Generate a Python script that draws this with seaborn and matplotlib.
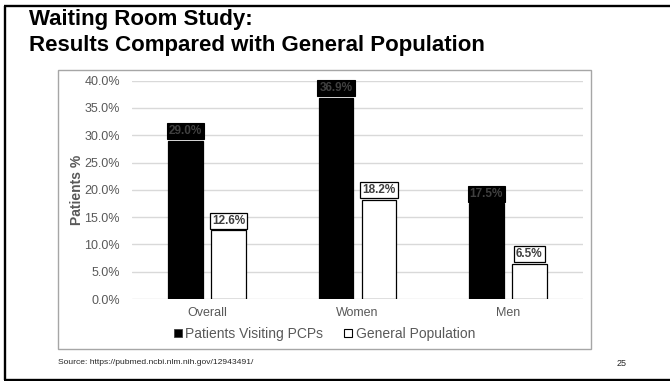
import numpy as np
import pandas as pd
import matplotlib
matplotlib.use("Agg")
import matplotlib.pyplot as plt
from matplotlib.lines import Line2D
from matplotlib.patches import Rectangle
import seaborn as sns

# Survey results (percent of respondents)
categories = ["Overall", "Women", "Men"]
series_names = ["Patients Visiting PCPs", "General Population"]
pcp_values = [29.0, 36.9, 17.5]
general_values = [12.6, 18.2, 6.5]
y_ticks = [0, 5, 10, 15, 20, 25, 30, 35, 40]
y_tick_labels = ["0.0%", "5.0%", "10.0%", "15.0%", "20.0%", "25.0%", "30.0%", "35.0%", "40.0%"]

df = pd.DataFrame({
    "Group": categories * 2,
    "Series": [series_names[0]] * len(categories) + [series_names[1]] * len(categories),
    "Percent": pcp_values + general_values,
})

sns.set_theme(style="white")
plt.rcParams["font.family"] = ["Liberation Sans", "DejaVu Sans"]

W, H = 670, 381
fig = plt.figure(figsize=(W / 100, H / 100), dpi=100)
fig.patch.set_facecolor("white")

ax = fig.add_axes([132 / W, 1 - 299 / H, 451 / W, (299 - 80.7) / H])

sns.barplot(
    data=df, x="Group", y="Percent", hue="Series",
    order=categories, hue_order=series_names,
    palette=["black", "white"], edgecolor="black", linewidth=0.9,
    width=0.572, gap=0.2, errorbar=None, legend=False, ax=ax,
)

ax.set_xlim(-0.5, len(categories) - 0.5)
ax.set_ylim(0, 40)
ax.set_yticks(y_ticks)
ax.set_yticklabels(y_tick_labels)
ax.set_xlabel("")
ax.set_ylabel("")
ax.yaxis.grid(True, color="#d9d9d9", linewidth=1.0)
ax.set_axisbelow(True)
for sp in ax.spines.values():
    sp.set_visible(False)
ax.tick_params(axis="both", length=0, labelcolor="#595959", labelsize=9)
ax.tick_params(axis="y", pad=8.6)
ax.tick_params(axis="x", pad=5.5)

ax.text(-0.121, 0.5, "Patients %", transform=ax.transAxes, rotation=90,
        ha="center", va="center", fontsize=10, fontweight="bold", color="#595959")

# Value labels above each bar
box_styles = [
    dict(boxstyle="square,pad=0.17", facecolor="black", edgecolor="black", linewidth=0.8),
    dict(boxstyle="square,pad=0.17", facecolor="white", edgecolor="black", linewidth=0.9),
]
for container, style in zip(ax.containers, box_styles):
    for bar in container:
        v = bar.get_height()
        ax.annotate(f"{v:.1f}%", xy=(bar.get_x() + bar.get_width() / 2, v),
                    xytext=(0, 2.6), textcoords="offset points",
                    ha="center", va="bottom", fontsize=8.5, fontweight="bold",
                    color="#404040", bbox=style, zorder=5)

# Legend
handles = [
    Line2D([], [], marker="s", linestyle="none", markersize=5.5,
           markerfacecolor="black", markeredgecolor="#404040", markeredgewidth=0.6),
    Line2D([], [], marker="s", linestyle="none", markersize=5.5,
           markerfacecolor="white", markeredgecolor="black", markeredgewidth=0.8),
]
fig.legend(handles, series_names, loc="center", bbox_to_anchor=(324.5 / W, 1 - 334 / H),
           ncol=2, frameon=False, fontsize=10, handlelength=0.6, handletextpad=0.25,
           columnspacing=1.5, labelcolor="#595959", borderaxespad=0, borderpad=0)

# Chart frame
fig.add_artist(Rectangle((58 / W, 1 - 349 / H), 533 / W, 279 / H, transform=fig.transFigure,
                         fill=False, edgecolor="#a6a6a6", linewidth=1.0))

# Slide border
border_kw = dict(transform=fig.transFigure, color="black", linewidth=1.7, solid_capstyle="butt")
fig.add_artist(Line2D([4.5 / W, 4.5 / W], [1 - 5.5 / H, 1 - 379.5 / H], **border_kw))
fig.add_artist(Line2D([3.5 / W, 1.0], [1 - 5.5 / H, 1 - 5.5 / H], **border_kw))
fig.add_artist(Line2D([3.5 / W, 1.0], [1 - 379.5 / H, 1 - 379.5 / H], **border_kw))

# Title
fig.text(29 / W, 1 - 25.5 / H, "Waiting Room Study:", fontsize=16, fontweight="bold",
         color="black", ha="left", va="baseline")
fig.text(29 / W, 1 - 50.5 / H, "Results Compared with General Population", fontsize=16,
         fontweight="bold", color="black", ha="left", va="baseline")

# Footer
fig.text(58 / W, 1 - 362 / H, "Source: https://pubmed.ncbi.nlm.nih.gov/12943491/",
         fontsize=6.1, color="#262626", ha="left", va="center")
fig.text(617 / W, 1 - 363 / H, "25", fontsize=6.5, color="#262626", ha="left", va="center")

fig.savefig("out.png", dpi=100, facecolor="white")
